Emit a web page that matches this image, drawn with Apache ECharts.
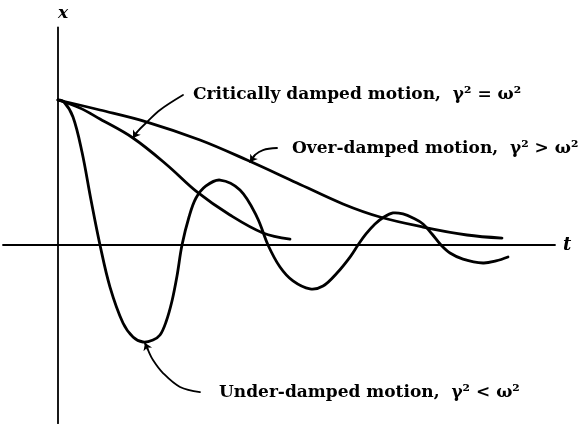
<!DOCTYPE html>
<html>
<head>
<meta charset="utf-8">
<script src="https://cdn.jsdelivr.net/npm/echarts@6/dist/echarts.min.js"></script>
<style>
html,body{margin:0;padding:0;background:#fff;}
#chart{width:585px;height:424px;}
</style>
</head>
<body>
<div id="chart"></div>
<script>
// time t (arbitrary units) and displacement x (x0 = 1)
var underT = [0, 0.12, 0.3, 0.48, 0.66, 0.84, 1.04, 1.3, 1.5, 1.7, 1.9, 2.04, 2.16, 2.28, 2.38, 2.48, 2.62, 2.76, 2.96, 3.24, 3.64, 3.98, 4.2, 4.44, 4.7, 5.04, 5.3, 5.58, 5.84, 6.0, 6.16, 6.34, 6.52, 6.7, 6.9, 7.1, 7.3, 7.48, 7.66, 7.84, 8.1, 8.5, 8.76, 9.0];
var underX = [1.0, 0.986, 0.883, 0.641, 0.31, 0, -0.29, -0.538, -0.634, -0.669, -0.655, -0.621, -0.531, -0.386, -0.214, 0, 0.193, 0.324, 0.407, 0.448, 0.379, 0.193, 0, -0.152, -0.248, -0.303, -0.283, -0.193, -0.083, 0, 0.076, 0.145, 0.193, 0.221, 0.214, 0.186, 0.145, 0.076, 0, -0.055, -0.097, -0.124, -0.110, -0.083];

var criticalT = [0, 0.44, 0.84, 1.5, 2.18, 2.78, 3.44, 4.1, 4.64];
var criticalX = [1.0, 0.945, 0.869, 0.738, 0.552, 0.366, 0.207, 0.083, 0.041];

var overT = [0, 0.84, 1.78, 2.84, 3.78, 4.78, 5.7, 6.44, 7.3, 8.18, 8.88];
var overX = [1.0, 0.931, 0.848, 0.724, 0.586, 0.428, 0.283, 0.193, 0.124, 0.069, 0.048];

// leader lines (annotation pointers) in data coordinates
var leadCriticalT = [2.5, 2.04, 1.78, 1.58, 1.5];
var leadCriticalX = [1.034, 0.931, 0.848, 0.779, 0.738];
var leadOverT = [4.38, 4.1, 3.94, 3.84];
var leadOverX = [0.669, 0.655, 0.621, 0.572];
var leadUnderT = [2.84, 2.44, 2.1, 1.9, 1.8, 1.74];
var leadUnderX = [-1.014, -0.979, -0.883, -0.793, -0.724, -0.676];

var labelCritical = 'Critically damped motion,  \u03b3\u00b2 = \u03c9\u00b2';
var labelOver = 'Over-damped motion,  \u03b3\u00b2 > \u03c9\u00b2';
var labelUnder = 'Under-damped motion,  \u03b3\u00b2 < \u03c9\u00b2';
var axisNameX = 't';
var axisNameY = 'x';

function zip(a, b) { return a.map(function (v, i) { return [v, b[i]]; }); }

// smooth curve through the data points, positioned with the chart's own axes (api.coord)
function curve(name, t, x, width) {
  var pts = zip(t, x);
  return {
    name: name, type: 'custom', coordinateSystem: 'cartesian2d', data: pts,
    silent: true, z: 3, clip: false,
    renderItem: function (params, api) {
      if (params.dataIndex !== 0) return null;
      var px = pts.map(function (p) { return api.coord(p); });
      return {
        type: 'polyline',
        shape: { points: px, smooth: 0.36 },
        style: { stroke: '#000', lineWidth: width, fill: null, lineJoin: 'round', lineCap: 'round' }
      };
    }
  };
}
function arrowHead(t, x) {
  var n = t.length;
  return {
    type: 'lines', coordinateSystem: 'cartesian2d',
    data: [{ coords: [[t[n - 2], x[n - 2]], [t[n - 1], x[n - 1]]] }],
    symbol: ['none', 'arrow'], symbolSize: 7,
    lineStyle: { color: '#000', width: 1.8, opacity: 1 }, silent: true, z: 5
  };
}

var chart = echarts.init(document.getElementById('chart'), null, { renderer: 'canvas' });
var textFont = 'bold 17px "DejaVu Serif"';
chart.setOption({
  animation: false,
  backgroundColor: '#fff',
  grid: { left: 3, right: 30, top: 27.5, bottom: 0.65, containLabel: false },
  xAxis: {
    type: 'value', min: -1.1, max: 9.94,
    name: axisNameX, nameLocation: 'end', nameGap: 8,
    nameTextStyle: { fontFamily: 'DejaVu Serif', fontStyle: 'italic', fontWeight: 'bold', fontSize: 18, color: '#000' },
    axisLine: { show: true, onZero: true, lineStyle: { color: '#000', width: 1.8 } },
    axisTick: { show: false }, axisLabel: { show: false }, splitLine: { show: false }
  },
  yAxis: {
    type: 'value', min: -1.23, max: 1.5,
    name: axisNameY, nameLocation: 'end', nameGap: 5,
    nameTextStyle: { fontFamily: 'DejaVu Serif', fontStyle: 'italic', fontWeight: 'bold', fontSize: 17, color: '#000', align: 'left' },
    axisLine: { show: true, onZero: true, lineStyle: { color: '#000', width: 1.8 } },
    axisTick: { show: false }, axisLabel: { show: false }, splitLine: { show: false }
  },
  graphic: [
    { type: 'text', left: 193, top: 86, style: { text: labelCritical, font: textFont, fill: '#000' } },
    { type: 'text', left: 292, top: 140, style: { text: labelOver, font: textFont, fill: '#000' } },
    { type: 'text', left: 219, top: 384, style: { text: labelUnder, font: textFont, fill: '#000' } }
  ],
  series: [
    curve('Under-damped', underT, underX, 2.8),
    curve('Critically damped', criticalT, criticalX, 2.8),
    curve('Over-damped', overT, overX, 2.8),
    curve('lead-critical', leadCriticalT, leadCriticalX, 1.8),
    curve('lead-over', leadOverT, leadOverX, 1.8),
    curve('lead-under', leadUnderT, leadUnderX, 1.8),
    arrowHead(leadCriticalT, leadCriticalX),
    arrowHead(leadOverT, leadOverX),
    arrowHead(leadUnderT, leadUnderX)
  ]
});
</script>
</body>
</html>
